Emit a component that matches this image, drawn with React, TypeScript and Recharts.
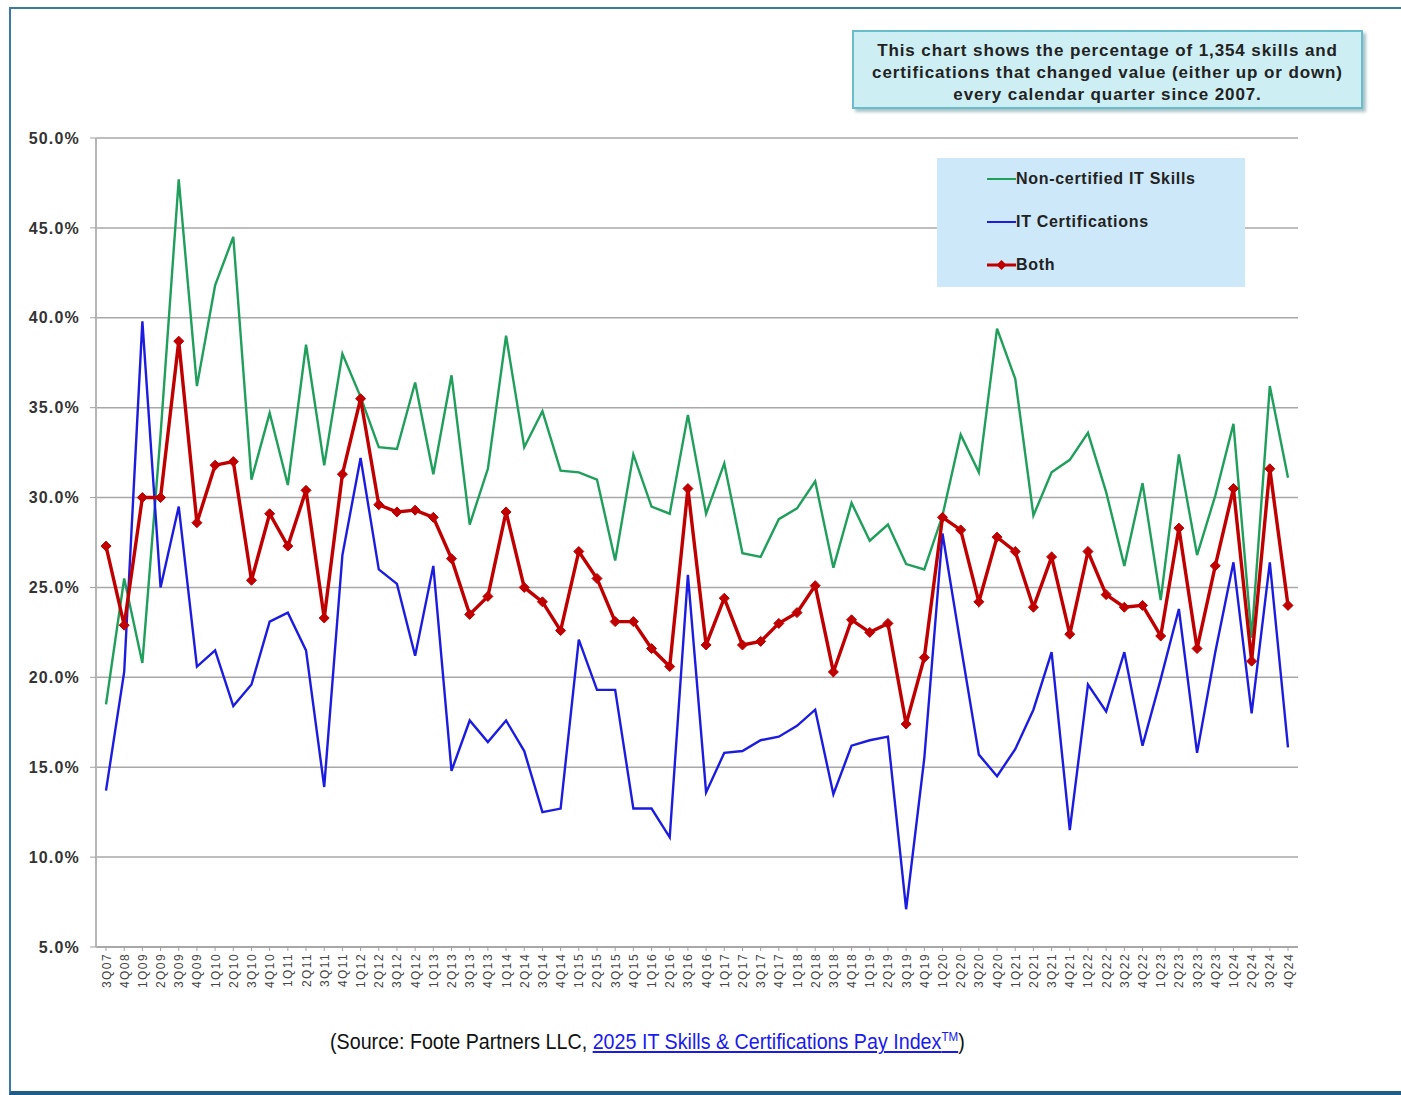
import React from "react";
import { LineChart, Line, XAxis, YAxis, CartesianGrid } from "recharts";

const quarters = [
  "3Q07", "4Q08",
  "1Q09", "2Q09", "3Q09", "4Q09",
  "1Q10", "2Q10", "3Q10", "4Q10",
  "1Q11", "2Q11", "3Q11", "4Q11",
  "1Q12", "2Q12", "3Q12", "4Q12",
  "1Q13", "2Q13", "3Q13", "4Q13",
  "1Q14", "2Q14", "3Q14", "4Q14",
  "1Q15", "2Q15", "3Q15", "4Q15",
  "1Q16", "2Q16", "3Q16", "4Q16",
  "1Q17", "2Q17", "3Q17", "4Q17",
  "1Q18", "2Q18", "3Q18", "4Q18",
  "1Q19", "2Q19", "3Q19", "4Q19",
  "1Q20", "2Q20", "3Q20", "4Q20",
  "1Q21", "2Q21", "3Q21", "4Q21",
  "1Q22", "2Q22", "3Q22", "4Q22",
  "1Q23", "2Q23", "3Q23", "4Q23",
  "1Q24", "2Q24", "3Q24", "4Q24",
];

// percent of skills/certs that changed value each quarter
const nonCertified = [
  18.5, 25.5,
  20.8, 33.5, 47.7, 36.2,
  41.8, 44.5, 31.0, 34.7,
  30.7, 38.5, 31.8, 38.0,
  35.6, 32.8, 32.7, 36.4,
  31.3, 36.8, 28.5, 31.6,
  39.0, 32.8, 34.8, 31.5,
  31.4, 31.0, 26.5, 32.4,
  29.5, 29.1, 34.6, 29.1,
  31.9, 26.9, 26.7, 28.8,
  29.4, 30.9, 26.1, 29.7,
  27.6, 28.5, 26.3, 26.0,
  29.0, 33.5, 31.4, 39.4,
  36.6, 29.0, 31.4, 32.1,
  33.6, 30.3, 26.2, 30.8,
  24.3, 32.4, 26.8, 30.1,
  34.1, 22.2, 36.2, 31.1,
];

const itCertifications = [
  13.7, 20.3,
  39.8, 25.0, 29.5, 20.6,
  21.5, 18.4, 19.6, 23.1,
  23.6, 21.5, 13.9, 26.8,
  32.2, 26.0, 25.2, 21.2,
  26.2, 14.8, 17.6, 16.4,
  17.6, 15.9, 12.5, 12.7,
  22.1, 19.3, 19.3, 12.7,
  12.7, 11.1, 25.7, 13.6,
  15.8, 15.9, 16.5, 16.7,
  17.3, 18.2, 13.5, 16.2,
  16.5, 16.7, 7.1, 15.5,
  28.0, 21.8, 15.7, 14.5,
  16.0, 18.2, 21.4, 11.5,
  19.6, 18.1, 21.4, 16.2,
  19.9, 23.8, 15.8, 21.4,
  26.4, 18.0, 26.4, 16.1,
];

const both = [
  27.3, 22.9,
  30.0, 30.0, 38.7, 28.6,
  31.8, 32.0, 25.4, 29.1,
  27.3, 30.4, 23.3, 31.3,
  35.5, 29.6, 29.2, 29.3,
  28.9, 26.6, 23.5, 24.5,
  29.2, 25.0, 24.2, 22.6,
  27.0, 25.5, 23.1, 23.1,
  21.6, 20.6, 30.5, 21.8,
  24.4, 21.8, 22.0, 23.0,
  23.6, 25.1, 20.3, 23.2,
  22.5, 23.0, 17.4, 21.1,
  28.9, 28.2, 24.2, 27.8,
  27.0, 23.9, 26.7, 22.4,
  27.0, 24.6, 23.9, 24.0,
  22.3, 28.3, 21.6, 26.2,
  30.5, 20.9, 31.6, 24.0,
];

const yTicks = [5, 10, 15, 20, 25, 30, 35, 40, 45, 50];

const GREEN = "#1f9e5c";
const BLUE = "#1c1ce0";
const RED = "#c00000";

const data = quarters.map((q, i) => ({
  q,
  nonCertified: nonCertified[i],
  itCertifications: itCertifications[i],
  both: both[i],
}));

function Diamond(props: any) {
  const { cx, cy, index } = props;
  if (cx == null || cy == null) return null;
  const r = 5;
  return (
    <polygon
      key={`d-${index}`}
      points={`${cx},${cy - r} ${cx + r},${cy} ${cx},${cy + r} ${cx - r},${cy}`}
      fill={RED}
      stroke={RED}
      strokeWidth={1}
    />
  );
}

function QuarterTick({ x, y, payload }: any) {
  return (
    <text
      transform={`translate(${x + 4.5},${y}) rotate(-90)`}
      textAnchor="end"
      fontSize={12}
      letterSpacing={1.4}
      fill="#444"
    >
      {payload.value}
    </text>
  );
}

const legendItems = [
  { label: "Non-certified IT Skills", color: GREEN, marker: false },
  { label: "IT Certifications", color: BLUE, marker: false },
  { label: "Both", color: RED, marker: true },
];

export default function App() {
  return (
    <div
      style={{
        position: "absolute",
        left: 0,
        top: 0,
        width: 1401,
        height: 1095,
        background: "#fff",
        overflow: "hidden",
        fontFamily: "Arial, 'Liberation Sans', sans-serif",
      }}
    >
      {/* page frame */}
      <div
        style={{
          position: "absolute",
          left: 9,
          top: 7,
          width: 1400,
          height: 1082,
          borderLeft: "2px solid #3a7aa3",
          borderTop: "2px solid #3a7aa3",
          borderBottom: "4px solid #1f5c88",
        }}
      />

      <div style={{ position: "absolute", left: 0, top: 0 }}>
        <LineChart
          width={1401}
          height={1095}
          data={data}
          margin={{ top: 138, right: 103, bottom: 88, left: 16 }}
        >
          <CartesianGrid vertical={false} stroke="#a8a8a8" strokeWidth={1.5} />
          <XAxis
            dataKey="q"
            interval={0}
            height={60}
            padding={{ left: 10, right: 10 }}
            tick={<QuarterTick />}
            tickSize={4}
            tickMargin={2}
            axisLine={{ stroke: "#a0a0a0", strokeWidth: 1.5 }}
            tickLine={{ stroke: "#a0a0a0" }}
          />
          <YAxis
            width={80}
            domain={[5, 50]}
            ticks={yTicks}
            interval={0}
            tickFormatter={(v: number) => `${v.toFixed(1)}%`}
            tick={{ fontSize: 16, fontWeight: 700, fill: "#333", letterSpacing: 1.2 }}
            tickSize={6}
            tickMargin={10}
            axisLine={{ stroke: "#b5b5b5", strokeWidth: 2 }}
            tickLine={{ stroke: "#a0a0a0" }}
          />
          <Line
            type="linear"
            dataKey="nonCertified"
            name="Non-certified IT Skills"
            stroke={GREEN}
            strokeWidth={2.4}
            dot={false}
            isAnimationActive={false}
          />
          <Line
            type="linear"
            dataKey="itCertifications"
            name="IT Certifications"
            stroke={BLUE}
            strokeWidth={2.4}
            dot={false}
            isAnimationActive={false}
          />
          <Line
            type="linear"
            dataKey="both"
            name="Both"
            stroke={RED}
            strokeWidth={3.4}
            dot={Diamond}
            activeDot={false}
            isAnimationActive={false}
          />
        </LineChart>
      </div>

      {/* note box */}
      <div
        style={{
          position: "absolute",
          left: 852,
          top: 30,
          width: 511,
          height: 79,
          background: "#cdeff4",
          border: "2px solid #6bbccb",
          boxShadow: "3px 3px 3px #a9c4c8",
          textAlign: "center",
          fontWeight: 700,
          fontSize: 17,
          letterSpacing: 0.9,
          lineHeight: "22px",
          color: "#222",
          paddingTop: 8,
          boxSizing: "border-box",
          whiteSpace: "nowrap",
        }}
      >
        This chart shows the percentage of 1,354 skills and
        <br />
        certifications that changed value (either up or down)
        <br />
        every calendar quarter since 2007.
      </div>

      {/* legend */}
      <div
        style={{
          position: "absolute",
          left: 937,
          top: 158,
          width: 308,
          height: 129,
          background: "#cce8f9",
        }}
      >
        {legendItems.map((it, i) => (
          <div
            key={it.label}
            style={{
              position: "absolute",
              left: 50,
              top: 21 + i * 43 - 10,
              height: 20,
              display: "flex",
              alignItems: "center",
              fontSize: 16,
              fontWeight: 700,
              letterSpacing: 0.7,
              color: "#222",
              whiteSpace: "nowrap",
            }}
          >
            <svg width={29} height={12} style={{ display: "block" }}>
              <line x1={0} y1={6} x2={29} y2={6} stroke={it.color} strokeWidth={it.marker ? 3 : 2} />
              {it.marker && <polygon points="14.5,1 19.5,6 14.5,11 9.5,6" fill={RED} />}
            </svg>
            <span>{it.label}</span>
          </div>
        ))}
      </div>

      {/* source */}
      <div
        style={{
          position: "absolute",
          left: 330,
          top: 1029,
          fontFamily: "'Liberation Sans Narrow', 'Arial Narrow', Arial, sans-serif",
          fontSize: 22,
          color: "#111",
          whiteSpace: "nowrap",
          transform: "scaleX(0.895)",
          transformOrigin: "0 50%",
        }}
      >
        (Source: Foote Partners LLC,{" "}
        <span style={{ color: "#1a1aee", textDecoration: "underline" }}>
          2025 IT Skills &amp; Certifications Pay Index
          <sup style={{ fontSize: 13 }}>TM</sup>
        </span>
        )
      </div>
    </div>
  );
}
